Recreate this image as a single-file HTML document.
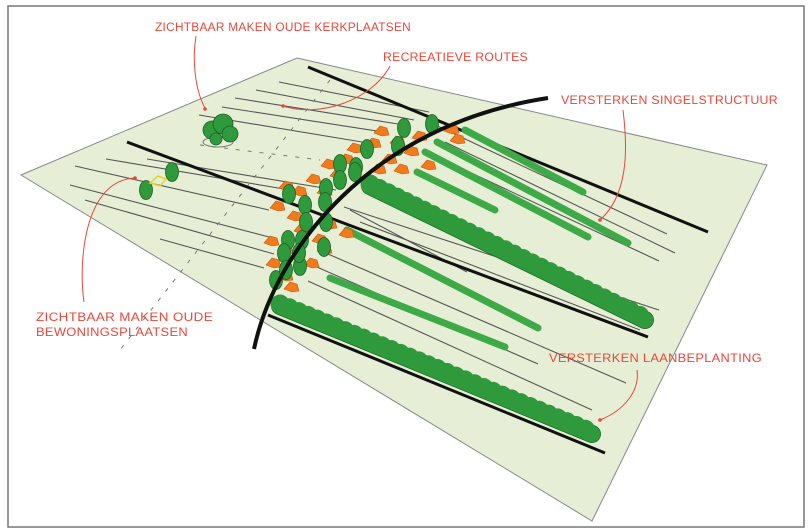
<!DOCTYPE html>
<html><head><meta charset="utf-8"><style>
html,body{margin:0;padding:0;background:#fff;}
svg{display:block;}
text{font-family:"Liberation Sans Narrow","Liberation Sans",sans-serif;fill:#e8473a;font-size:12px;letter-spacing:0.3px;}
</style></head><body>
<svg width="811" height="532" viewBox="0 0 811 532" xmlns="http://www.w3.org/2000/svg">
<defs>
<g id="t"><ellipse cx="0" cy="0" rx="6.5" ry="9.5" fill="#2f9a3c" stroke="#1f5f25" stroke-width="0.8"/></g>
<g id="h"><path d="M-6,3 L0,-4 L7,-2 L9,5 L2,6 Z" fill="#f07a1c" stroke="#c85a10" stroke-width="0.6"/></g>
</defs>
<rect x="8" y="6" width="796" height="521" fill="#fff" stroke="#777" stroke-width="1.5"/>
<polygon points="297,58 767,165 592,521 21,175" fill="#e6efd6" stroke="#888" stroke-width="1"/>
<g stroke="#555" stroke-width="1.1" fill="none">
<line x1="279" y1="82" x2="429" y2="112"/>
<line x1="235" y1="98" x2="398" y2="124"/>
<line x1="222" y1="107" x2="383" y2="132"/>
<line x1="199" y1="115" x2="362" y2="142"/>
<line x1="256" y1="90" x2="414" y2="120"/>
<line x1="429" y1="122" x2="667" y2="234"/>
<line x1="445" y1="142" x2="675" y2="253"/>
<line x1="450" y1="163" x2="659" y2="261"/>
<line x1="106" y1="159" x2="290" y2="190"/>
<line x1="147" y1="159" x2="336" y2="190"/>
<line x1="75" y1="166" x2="269" y2="210"/>
<line x1="70" y1="185" x2="269" y2="237"/>
<line x1="85" y1="200" x2="274" y2="254"/>
<line x1="160" y1="239" x2="264" y2="268"/>
<line x1="344" y1="207" x2="659" y2="310"/>
<line x1="350" y1="210" x2="467" y2="272"/>
<line x1="321" y1="251" x2="626" y2="383"/>
<line x1="310" y1="264" x2="538" y2="364"/>
<line x1="308" y1="281" x2="592" y2="410"/>
<line x1="360" y1="222" x2="640" y2="330"/>
</g>
<g stroke="#777" stroke-width="1" stroke-dasharray="4,8" fill="none">
<line x1="330" y1="80" x2="120" y2="350"/>
<line x1="200" y1="145" x2="320" y2="160"/>
</g>
<ellipse cx="218" cy="142" rx="15" ry="5" fill="none" stroke="#777" stroke-width="1"/>
<g fill="#2f9a3c" stroke="#1f5f25" stroke-width="0.8">
<circle cx="212" cy="130" r="9"/><circle cx="223" cy="124" r="10"/><circle cx="230" cy="134" r="8"/><circle cx="216" cy="139" r="6"/>
</g>
<g stroke="#111" stroke-width="3" fill="none">
<line x1="308" y1="67" x2="708" y2="232"/>
<line x1="127" y1="142" x2="648" y2="337"/>
<line x1="268" y1="315" x2="605" y2="453"/>
</g>
<g fill="none" stroke-linecap="round">
<line x1="370" y1="186" x2="645" y2="320" stroke="#1f6a28" stroke-width="18"/>
<line x1="280" y1="306" x2="592" y2="434" stroke="#1f6a28" stroke-width="18"/>
<line x1="370" y1="186" x2="645" y2="320" stroke="#2f9a3c" stroke-width="16.5"/>
<line x1="280" y1="306" x2="592" y2="434" stroke="#2f9a3c" stroke-width="16.5"/>
<line x1="370" y1="184" x2="645" y2="318" stroke="#2f9a3c" stroke-width="19" stroke-dasharray="0 10"/>
<line x1="280" y1="304" x2="592" y2="432" stroke="#2f9a3c" stroke-width="19" stroke-dasharray="0 10"/>
</g>
<g stroke="#3daa47" stroke-width="7" stroke-linecap="round" fill="none">
<line x1="465" y1="130" x2="583" y2="192"/>
<line x1="437" y1="142" x2="628" y2="243"/>
<line x1="425" y1="152" x2="588" y2="237"/>
<line x1="417" y1="172" x2="495" y2="210"/>
<line x1="347" y1="230" x2="538" y2="328"/>
<line x1="330" y1="278" x2="505" y2="347"/>
</g>
<g>
<use href="#h" x="380" y="130"/><use href="#h" x="372" y="142"/><use href="#h" x="353" y="147"/><use href="#h" x="345" y="158"/>
<use href="#h" x="327" y="163"/><use href="#h" x="336" y="173"/><use href="#h" x="312" y="178"/><use href="#h" x="323" y="190"/>
<use href="#h" x="285" y="185"/><use href="#h" x="298" y="190"/><use href="#h" x="276" y="205"/><use href="#h" x="293" y="215"/>
<use href="#h" x="270" y="240"/><use href="#h" x="284" y="248"/><use href="#h" x="272" y="262"/><use href="#h" x="284" y="275"/>
<use href="#h" x="290" y="286"/><use href="#h" x="310" y="262"/><use href="#h" x="323" y="248"/><use href="#h" x="328" y="223"/>
<use href="#h" x="318" y="238"/><use href="#h" x="345" y="232"/><use href="#h" x="396" y="140"/><use href="#h" x="388" y="158"/>
<use href="#h" x="418" y="135"/><use href="#h" x="410" y="150"/><use href="#h" x="400" y="168"/><use href="#h" x="427" y="164"/>
<use href="#h" x="450" y="128"/><use href="#h" x="456" y="138"/><use href="#h" x="377" y="168"/><use href="#h" x="300" y="228"/>
</g>
<g>
<use href="#t" x="404" y="128"/><use href="#t" x="432" y="124"/><use href="#t" x="398" y="146"/><use href="#t" x="367" y="149"/>
<use href="#t" x="356" y="167"/><use href="#t" x="340" y="164"/><use href="#t" x="340" y="180"/><use href="#t" x="355" y="172"/>
<use href="#t" x="326" y="188"/><use href="#t" x="325" y="202"/><use href="#t" x="305" y="205"/><use href="#t" x="289" y="194"/>
<use href="#t" x="326" y="222"/><use href="#t" x="306" y="222"/><use href="#t" x="324" y="247"/><use href="#t" x="302" y="240"/>
<use href="#t" x="288" y="240"/><use href="#t" x="300" y="266"/><use href="#t" x="284" y="253"/><use href="#t" x="276" y="280"/>
<use href="#t" x="299" y="253"/><use href="#t" x="286" y="270"/><use href="#t" x="172" y="172"/><use href="#t" x="146" y="190"/>
</g>
<path d="M150,183 L158,176 L166,179 L160,186 Z" fill="none" stroke="#e6d32a" stroke-width="1.5"/>
<path d="M254,349 C275,250 370,125 548,98" fill="none" stroke="#111" stroke-width="4"/>
<g stroke="#e8473a" stroke-width="1" fill="none">
<path d="M196,36 C192,60 195,90 205,108"/>
<path d="M390,66 C372,100 320,118 283,106"/>
<path d="M623,110 C628,150 628,195 600,220"/>
<path d="M84,302 C78,260 85,180 135,178"/>
<path d="M637,370 C640,390 625,410 600,420"/>
</g>
<g fill="#e8473a">
<circle cx="205" cy="109" r="1.8"/><circle cx="283" cy="106" r="1.8"/><circle cx="600" cy="220" r="1.8"/><circle cx="135" cy="178" r="1.8"/><circle cx="600" cy="420" r="1.8"/>
</g>
<text x="155" y="31" textLength="256" lengthAdjust="spacingAndGlyphs">ZICHTBAAR MAKEN OUDE KERKPLAATSEN</text>
<text x="383" y="61" textLength="145" lengthAdjust="spacingAndGlyphs">RECREATIEVE ROUTES</text>
<text x="561" y="104" textLength="217" lengthAdjust="spacingAndGlyphs">VERSTERKEN SINGELSTRUCTUUR</text>
<text x="36" y="321" textLength="177" lengthAdjust="spacingAndGlyphs">ZICHTBAAR MAKEN OUDE</text>
<text x="36" y="336" textLength="152" lengthAdjust="spacingAndGlyphs">BEWONINGSPLAATSEN</text>
<text x="549" y="362" textLength="213" lengthAdjust="spacingAndGlyphs">VERSTERKEN LAANBEPLANTING</text>
</svg>
</body></html>
